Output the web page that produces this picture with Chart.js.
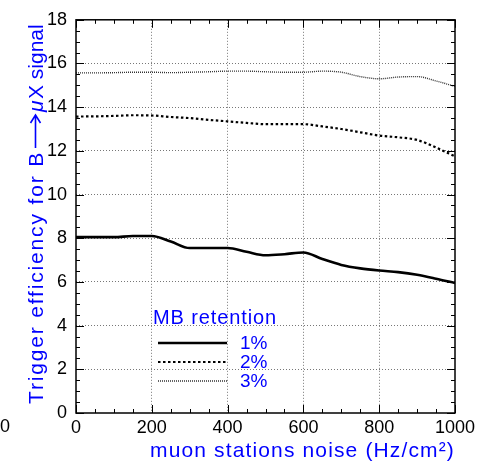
<!DOCTYPE html>
<html>
<head>
<meta charset="utf-8">
<script src="https://cdn.jsdelivr.net/npm/chart.js@4/dist/chart.umd.min.js"></script>
<style>
  html, body { margin: 0; padding: 0; background: #fff; }
  #wrap { width: 486px; height: 464px; }
</style>
</head>
<body>
<div id="wrap"><canvas id="chart" width="486" height="464"></canvas></div>
<script>
// data
const noise = [0, 50, 100, 150, 200, 250, 300, 350, 400, 450, 500, 550, 600, 650, 700, 750, 800, 850, 900, 950, 1000];
const mb1 = [8.05, 8.05, 8.05, 8.1, 8.1, 7.85, 7.55, 7.55, 7.55, 7.38, 7.22, 7.27, 7.35, 7.05, 6.78, 6.62, 6.52, 6.45, 6.33, 6.15, 5.95];
const mb2 = [13.57, 13.58, 13.6, 13.63, 13.62, 13.55, 13.5, 13.42, 13.35, 13.28, 13.22, 13.22, 13.22, 13.12, 13.0, 12.85, 12.7, 12.62, 12.5, 12.15, 11.75];
const mb3 = [15.57, 15.57, 15.58, 15.6, 15.6, 15.58, 15.6, 15.62, 15.65, 15.65, 15.62, 15.6, 15.6, 15.65, 15.6, 15.4, 15.3, 15.38, 15.4, 15.2, 14.95];
const retention = ['1%', '2%', '3%'];
const xTicks = [0, 200, 400, 600, 800, 1000];
const yTicks = [0, 2, 4, 6, 8, 10, 12, 14, 16, 18];

const BLUE = '#0000ff';
const FONT = '"Liberation Sans", Arial, sans-serif';

const styles = [
  { borderWidth: 2.6, borderDash: [] },
  { borderWidth: 2.2, borderDash: [2.5, 2.5] },
  { borderWidth: 1.4, borderDash: [1, 1] }
];

const toPoints = vals => noise.map((x, i) => ({ x, y: vals[i] }));

const datasets = [mb1, mb2, mb3].map((vals, i) => ({
  label: retention[i],
  data: toPoints(vals),
  borderColor: i === 2 ? '#333' : '#000',
  borderWidth: styles[i].borderWidth,
  borderDash: styles[i].borderDash,
  pointRadius: 0,
  fill: false,
  cubicInterpolationMode: 'monotone'
}));

// stretch text to a given width with letter spacing (ROOT-like wide spacing)
function spacedText(ctx, text, x, y, width) {
  ctx.letterSpacing = '0px';
  const natural = ctx.measureText(text).width;
  const sp = Math.max(0, (width - natural) / text.length);
  ctx.letterSpacing = sp + 'px';
  ctx.fillText(text, x, y);
  ctx.letterSpacing = '0px';
}

// frame, inner ticks, titles and legend box
const decor = {
  id: 'decor',
  afterDraw(chart) {
    const { ctx, chartArea: a, scales } = chart;
    const xs = scales.x, ys = scales.y;
    ctx.save();
    ctx.strokeStyle = '#000';
    ctx.lineWidth = 1.5;
    ctx.setLineDash([]);
    ctx.strokeRect(a.left, a.top, a.right - a.left, a.bottom - a.top);

    ctx.lineWidth = 1;
    for (let v = 0; v <= 1000; v += 50) {
      const px = Math.round(xs.getPixelForValue(v)) + 0.5;
      const len = v % 200 === 0 ? 8 : 4;
      ctx.beginPath();
      ctx.moveTo(px, a.bottom); ctx.lineTo(px, a.bottom - len);
      ctx.moveTo(px, a.top); ctx.lineTo(px, a.top + len);
      ctx.stroke();
    }
    for (let v = 0; v <= 18; v += 0.5) {
      const py = Math.round(ys.getPixelForValue(v)) + 0.5;
      const len = v % 2 === 0 ? 8 : 4;
      ctx.beginPath();
      ctx.moveTo(a.left, py); ctx.lineTo(a.left + len, py);
      ctx.moveTo(a.right, py); ctx.lineTo(a.right - len, py);
      ctx.stroke();
    }

    // stray zero label at far left
    ctx.fillStyle = '#000';
    ctx.font = '18px ' + FONT;
    ctx.textAlign = 'left';
    ctx.textBaseline = 'middle';
    ctx.fillText('0', 0, 427);

    // x title
    ctx.fillStyle = BLUE;
    ctx.font = '21px ' + FONT;
    ctx.textBaseline = 'alphabetic';
    ctx.textAlign = 'left';
    spacedText(ctx, 'muon stations noise (Hz/cm\u00b2)', 150, 457, 305);

    // y title, drawn in pieces: text, long arrow, italic mu, text
    ctx.save();
    ctx.translate(43, 404);
    ctx.rotate(-Math.PI / 2);
    ctx.textAlign = 'left';
    spacedText(ctx, 'Trigger efficiency for B', 0, 0, 253);
    ctx.strokeStyle = BLUE;
    ctx.lineWidth = 1.6;
    ctx.beginPath();
    ctx.moveTo(256, -7.5); ctx.lineTo(288, -7.5);
    ctx.moveTo(281, -12.5); ctx.lineTo(289, -7.5); ctx.lineTo(281, -2.5);
    ctx.stroke();
    ctx.font = 'italic 21px ' + FONT;
    ctx.fillText('\u03bc', 292, 0);
    ctx.font = '21px ' + FONT;
    ctx.fillText('X signal', 305, 0);
    ctx.restore();

    // legend
    ctx.textAlign = 'left';
    ctx.textBaseline = 'middle';
    ctx.font = '20px ' + FONT;
    spacedText(ctx, 'MB retention', 153, 318, 124);
    const rows = [343, 362, 381];
    chart.data.datasets.forEach((ds, i) => {
      ctx.strokeStyle = ds.borderColor;
      ctx.lineWidth = ds.borderWidth;
      ctx.setLineDash(ds.borderDash);
      ctx.beginPath();
      ctx.moveTo(158, rows[i]); ctx.lineTo(227, rows[i]);
      ctx.stroke();
      ctx.setLineDash([]);
      ctx.fillStyle = BLUE;
      ctx.font = '19px ' + FONT;
      ctx.fillText(ds.label, 240, rows[i] + 1);
    });
    ctx.restore();
  }
};

new Chart(document.getElementById('chart'), {
  type: 'line',
  data: { datasets },
  options: {
    responsive: false,
    animation: false,
    layout: { padding: { top: 15, right: 31, left: 0, bottom: 0 } },
    plugins: { legend: { display: false }, tooltip: { enabled: false } },
    scales: {
      x: {
        type: 'linear',
        min: 0, max: 1000,
        afterBuildTicks: s => { s.ticks = xTicks.map(v => ({ value: v })); },
        afterFit: s => { s.height = 51; },
        ticks: { color: '#000', font: { family: FONT, size: 18 }, padding: 4, maxRotation: 0, callback: v => String(v) },
        grid: {
          drawTicks: false,
          color: ctx => (ctx.tick && ctx.tick.value > 0 && ctx.tick.value < 1000) ? '#777' : 'rgba(0,0,0,0)',
          lineWidth: 1
        },
        border: { display: false, dash: [1, 2] }
      },
      y: {
        min: 0, max: 18,
        afterBuildTicks: s => { s.ticks = yTicks.map(v => ({ value: v })); },
        afterFit: s => { s.width = 76; },
        ticks: { color: '#000', font: { family: FONT, size: 18 }, padding: 9, callback: v => String(v) },
        grid: {
          drawTicks: false,
          color: ctx => (ctx.tick && ctx.tick.value > 0 && ctx.tick.value < 18) ? '#777' : 'rgba(0,0,0,0)',
          lineWidth: 1
        },
        border: { display: false, dash: [1, 2] }
      }
    }
  },
  plugins: [decor]
});
</script>
</body>
</html>
